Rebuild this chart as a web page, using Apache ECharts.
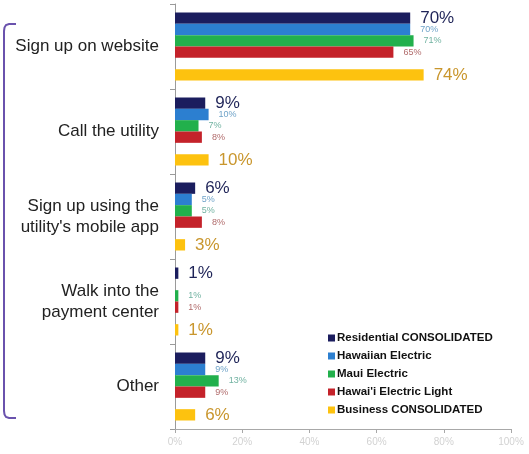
<!DOCTYPE html>
<html>
<head>
<meta charset="utf-8">
<script src="https://cdn.jsdelivr.net/npm/echarts@6/dist/echarts.min.js"></script>
<style>
  html, body { margin: 0; padding: 0; background: #ffffff; }
  #chart { width: 529px; height: 454px; }
</style>
</head>
<body>
<div id="chart"></div>
<script>
// Ways customers sign up, by utility (percent of respondents)
const categories = [
  'Sign up on website',
  'Call the utility',
  'Sign up using the\nutility\'s mobile app',
  'Walk into the\npayment center',
  'Other'
];
const seriesNames = [
  'Residential CONSOLIDATED',
  'Hawaiian Electric',
  'Maui Electric',
  'Hawai\'i Electric Light',
  'Business CONSOLIDATED'
];
const residential = [70, 9, 6, 1, 9];
const hawaiian    = [70, 10, 5, null, 9];
const maui        = [71, 7, 5, 1, 13];
const hawaiiLight = [65, 8, 8, 1, 9];
const business    = [74, 10, 3, 1, 6];
const xTicks = [0, 20, 40, 60, 80, 100];

const FONT = 'Arial, "Liberation Sans", Helvetica, sans-serif';

const colors = ['#1b1d5e', '#2c7fd0', '#22b04c', '#c4222a', '#fdc20f'];
const labelColors = ['#1f2458', '#6fa3c8', '#72b3a2', '#b06a6a', '#c9962d'];
const labelSizes = [17, 9, 9, 9, 17];
const values = [residential, hawaiian, maui, hawaiiLight, business];

function barSeries(i) {
  return {
    name: seriesNames[i],
    type: 'bar',
    data: values[i],
    barGap: '0%',
    barCategoryGap: '20%',
    itemStyle: { color: colors[i] },
    label: {
      show: true,
      position: 'right',
      distance: 10,
      formatter: '{c}%',
      color: labelColors[i],
      fontSize: labelSizes[i],
      fontFamily: FONT
    }
  };
}

const series = [barSeries(0), barSeries(1), barSeries(2), barSeries(3),
  // empty slot separating the business bar from the residential utilities
  { name: 'spacer', type: 'bar', data: categories.map(() => null), barGap: '0%', barCategoryGap: '20%' },
  barSeries(4)];

const chart = echarts.init(document.getElementById('chart'), null, { renderer: 'canvas' });
chart.setOption({
  animation: false,
  backgroundColor: '#ffffff',
  grid: { left: 175, right: 18, top: 4, bottom: 25, containLabel: false },
  legend: {
    data: seriesNames,
    orient: 'vertical',
    left: 326,
    top: 330,
    itemWidth: 7,
    itemHeight: 7,
    itemGap: 6,
    icon: 'rect',
    backgroundColor: '#ffffff',
    padding: [2, 2],
    textStyle: { fontFamily: FONT, fontSize: 11.5, fontWeight: 'bold', color: '#111111', padding: [0, 0, 0, -3] }
  },
  xAxis: {
    type: 'value',
    min: xTicks[0],
    max: xTicks[xTicks.length - 1],
    interval: xTicks[1] - xTicks[0],
    splitLine: { show: false },
    axisLine: { show: true, lineStyle: { color: '#a8a8a8', width: 1 } },
    axisTick: { show: true, length: 4, lineStyle: { color: '#a8a8a8' } },
    axisLabel: { formatter: '{value}%', color: '#d2d2d2', fontSize: 10, fontFamily: FONT, margin: 8 }
  },
  yAxis: {
    type: 'category',
    data: categories,
    inverse: true,
    axisLine: { show: true, lineStyle: { color: '#9a9a9a', width: 1 } },
    axisTick: { show: true, length: 5, lineStyle: { color: '#9a9a9a' } },
    axisLabel: { color: '#222222', fontSize: 17, fontFamily: FONT, margin: 16, lineHeight: 21, align: 'right' }
  },
  graphic: [{
    type: 'polyline',
    shape: { points: [[16, 24], [9, 24], [6, 25], [4.5, 27.5], [4, 31], [4, 411], [4.5, 414.5], [6, 417], [9, 418], [16, 418]] },
    style: { fill: null, stroke: '#6a52ad', lineWidth: 2 }
  }],
  series: series
});
</script>
</body>
</html>
